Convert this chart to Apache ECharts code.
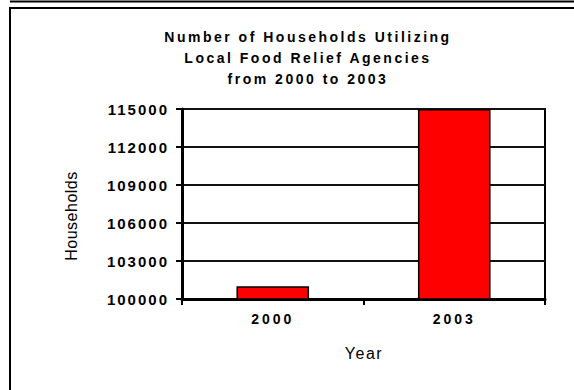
<!DOCTYPE html>
<html>
<head>
<meta charset="utf-8">
<script src="https://cdn.jsdelivr.net/npm/echarts@6/dist/echarts.min.js"></script>
<style>
  html, body { margin: 0; padding: 0; background: #fff; overflow: hidden; }
  #chart { width: 574px; height: 390px; overflow: hidden; }
</style>
</head>
<body>
<div id="chart"></div>
<script>
// Households served by local food relief agencies
const years = ['2000', '2003'];
const households = [101000, 115000];
const yTicks = [100000, 103000, 106000, 109000, 112000, 115000];
const titleLines = ['Number of Households Utilizing', 'Local Food Relief Agencies', 'from 2000 to 2003'];
const xName = 'Year';
const yName = 'Households';

const FONT = '"Liberation Sans", Arial, Helvetica, sans-serif';

const chart = echarts.init(document.getElementById('chart'), null, { renderer: 'svg' });

chart.setOption({
  animation: false,
  backgroundColor: '#fff',
  grid: {
    left: 182, right: 29, top: 109, bottom: 91,
    show: true, borderColor: '#000', borderWidth: 2, backgroundColor: 'transparent'
  },
  xAxis: {
    type: 'category',
    data: years,
    boundaryGap: true,
    axisLine: { show: true, lineStyle: { color: '#000', width: 3 } },
    axisTick: { show: true, alignWithLabel: false, length: 6, lineStyle: { color: '#000', width: 2 } },
    axisLabel: { margin: 13, color: '#000', fontFamily: FONT, fontWeight: 'bold', fontSize: 14 },
    splitLine: { show: false }
  },
  yAxis: {
    type: 'value',
    min: yTicks[0],
    max: yTicks[yTicks.length - 1],
    interval: yTicks[1] - yTicks[0],
    axisLine: { show: true, lineStyle: { color: '#000', width: 3 } },
    axisTick: { show: true, length: 6, lineStyle: { color: '#000', width: 2 } },
    axisLabel: {
      margin: 13, color: '#000', fontFamily: FONT, fontWeight: 'bold', fontSize: 15,
      formatter: v => String(v)
    },
    splitLine: { show: true, lineStyle: { color: '#111', width: 2 } }
  },
  series: [{
    type: 'bar',
    data: households,
    barWidth: '40%',
    itemStyle: { color: '#ff0000', borderColor: '#000', borderWidth: 1.5 }
  }],
  graphic: [
    // outer frame lines
    { type: 'line', shape: { x1: 10, y1: 1.5, x2: 700, y2: 1.5 }, style: { stroke: '#000', lineWidth: 2 } },
    { type: 'rect', shape: { x: 10, y: 8, width: 700, height: 500 }, style: { fill: 'none', stroke: '#000', lineWidth: 2 } },
    {
      type: 'text', x: 308, y: 26.5,
      style: {
        text: titleLines.join('\n'), textAlign: 'center', textVerticalAlign: 'top',
        font: 'bold 14px ' + FONT, lineHeight: 21, fill: '#000'
      }
    },
    {
      type: 'text', x: 364, y: 353,
      style: { text: xName, textAlign: 'center', textVerticalAlign: 'middle', font: '16px ' + FONT, fill: '#000' }
    },
    {
      type: 'text', x: 71, y: 216, rotation: Math.PI / 2,
      style: { text: yName, textAlign: 'center', textVerticalAlign: 'middle', font: '16px ' + FONT, fill: '#000' }
    }
  ]
});

// Wide tracking on the chart's text, as in the printed original
function applySpacing() {
  const spacing = {};
  titleLines.forEach(t => { spacing[t] = '2.5px'; });
  years.forEach(t => { spacing[t] = '3px'; });
  yTicks.forEach(t => { spacing[String(t)] = '2px'; });
  spacing[xName] = '1.5px';
  spacing[yName] = '0.5px';
  document.querySelectorAll('#chart text').forEach(el => {
    const s = spacing[el.textContent.trim()];
    if (s) el.style.letterSpacing = s;
  });
}
applySpacing();
chart.on('finished', applySpacing);
</script>
</body>
</html>
